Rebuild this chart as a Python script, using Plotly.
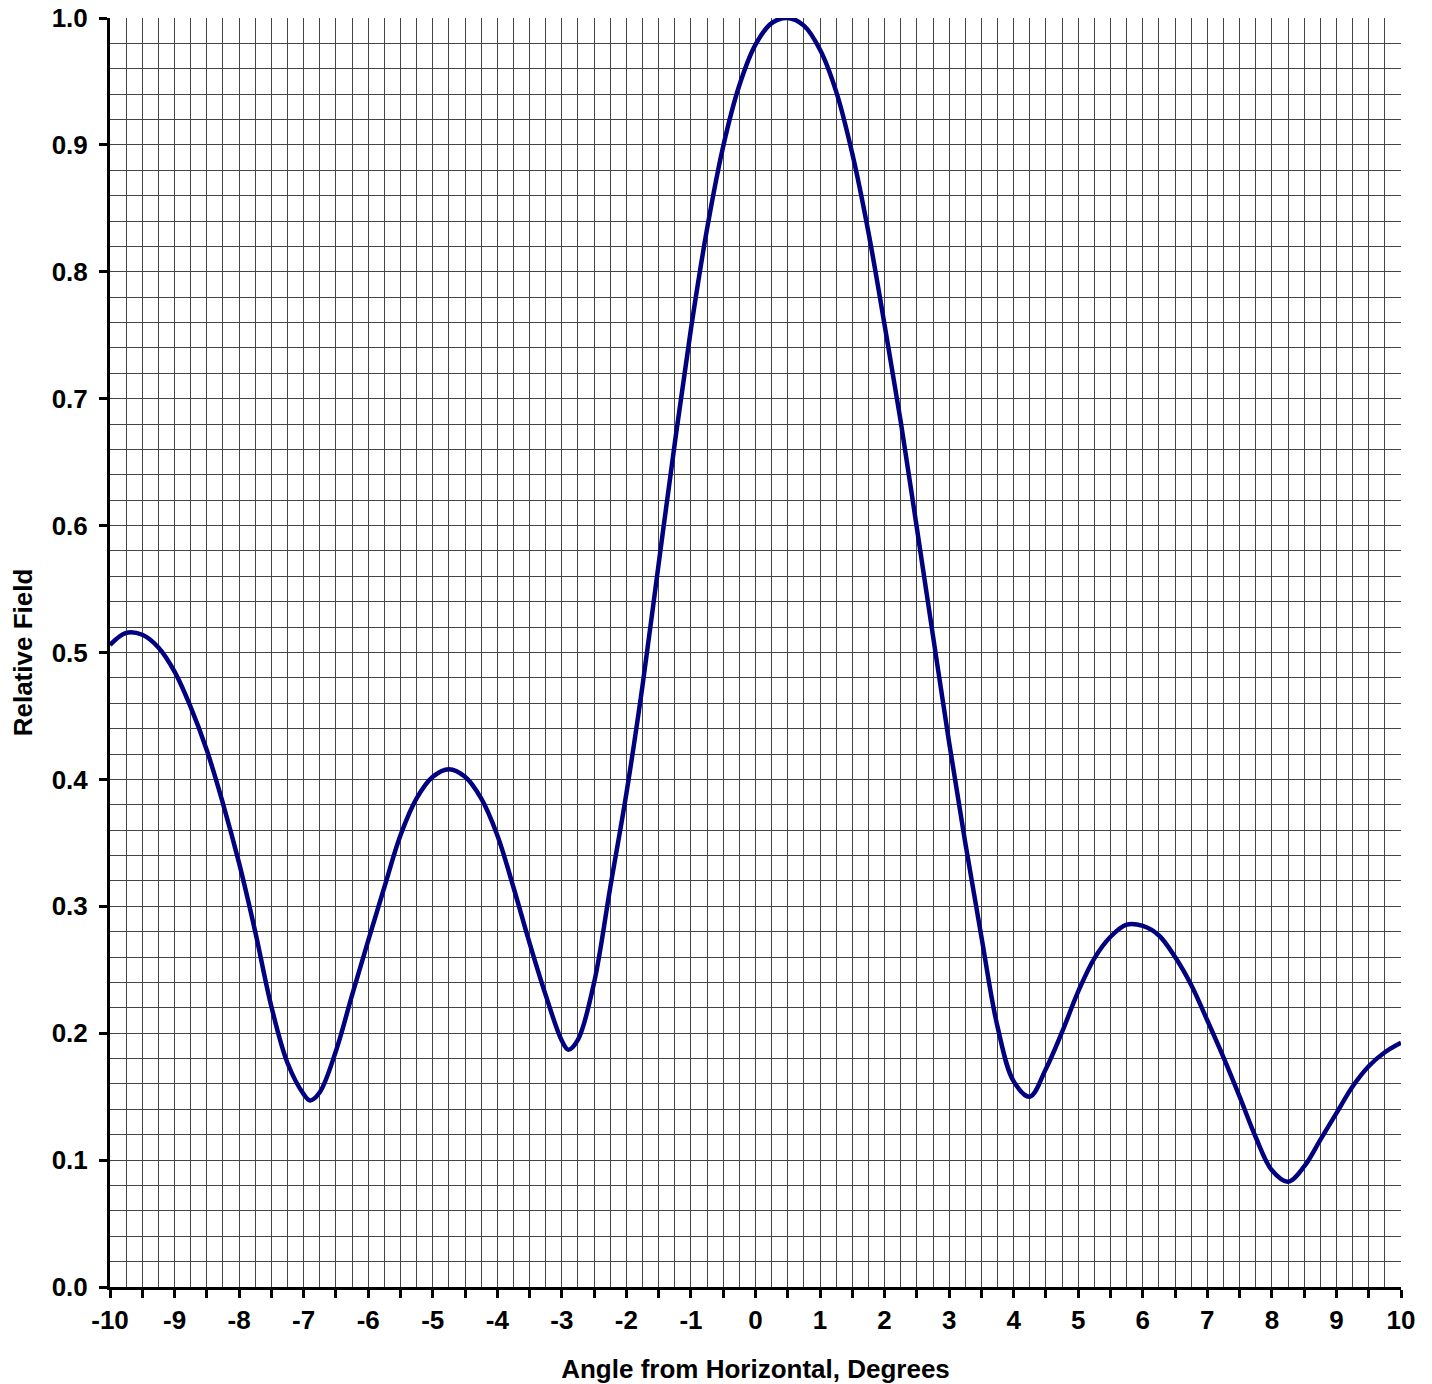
import plotly.graph_objects as go

# ---- data ----
angle_deg = [-10, -9.75, -9.5, -9.25, -9, -8.75, -8.5, -8.25, -8, -7.75, -7.5, -7.25,
             -7, -6.9, -6.75, -6.5, -6.25, -6, -5.75, -5.5, -5.25, -5, -4.75, -4.5,
             -4.25, -4, -3.75, -3.5, -3.25, -3, -2.9, -2.75, -2.5, -2.25, -2, -1.75,
             -1.5, -1.25, -1, -0.75, -0.5, -0.25, 0, 0.25, 0.5, 0.75, 1, 1.25, 1.5,
             1.75, 2, 2.25, 2.5, 2.75, 3, 3.25, 3.5, 3.75, 4, 4.25, 4.5, 4.75, 5,
             5.25, 5.5, 5.75, 6, 6.25, 6.5, 6.75, 7, 7.25, 7.5, 7.75, 8, 8.25, 8.5,
             8.75, 9, 9.25, 9.5, 9.75, 10]
relative_field = [0.506, 0.5155, 0.514, 0.504, 0.485, 0.457, 0.423, 0.381, 0.334, 0.280,
                  0.221, 0.1765, 0.152, 0.147, 0.1535, 0.186, 0.230, 0.273, 0.315, 0.356,
                  0.385, 0.402, 0.408, 0.402, 0.385, 0.356, 0.315, 0.271, 0.230, 0.194,
                  0.187, 0.195, 0.240, 0.315, 0.389, 0.474, 0.570, 0.665, 0.755, 0.834,
                  0.899, 0.947, 0.979, 0.996, 1.0, 0.994, 0.975, 0.942, 0.893, 0.831,
                  0.758, 0.682, 0.598, 0.513, 0.429, 0.350, 0.276, 0.205, 0.162, 0.150,
                  0.172, 0.201, 0.233, 0.259, 0.276, 0.2855, 0.2845, 0.277, 0.260, 0.238,
                  0.210, 0.181, 0.150, 0.118, 0.092, 0.083, 0.095, 0.116, 0.137, 0.158,
                  0.174, 0.185, 0.1925]

x_tick_vals = [v / 2 for v in range(-20, 21)]
x_tick_text = [str(int(v)) if v == int(v) else "" for v in x_tick_vals]
y_tick_vals = [i / 10 for i in range(0, 11)]
y_tick_text = [f"{v:.1f}" for v in y_tick_vals]

FONT = "Liberation Sans, Arial, sans-serif"
GRID = "#454545"

fig = go.Figure()
fig.add_trace(go.Scatter(
    x=angle_deg, y=relative_field, mode="lines",
    line=dict(color="#000080", width=4.5, shape="spline", smoothing=1.0),
    cliponaxis=False, showlegend=False, hoverinfo="skip",
))

fig.update_layout(
    width=1424, height=1376,
    margin=dict(l=102, r=31, t=10, b=97),
    paper_bgcolor="white", plot_bgcolor="white",
    font=dict(family=FONT, size=26, color="black", weight="bold"),
    xaxis=dict(
        range=[-10, 10], tickmode="array", tickvals=x_tick_vals, ticktext=x_tick_text,
        ticks="outside", ticklen=8, tickwidth=3, tickcolor="black",
        showline=True, linecolor="black", linewidth=3,
        showgrid=True, gridcolor=GRID, gridwidth=1,
        minor=dict(dtick=0.25, tick0=0, showgrid=True, gridcolor=GRID, gridwidth=1, ticks=""),
        zeroline=False, ticklabelstandoff=0, ticklabeloverflow="allow",
        tickfont=dict(family=FONT, size=26, color="black", weight="bold"),
        title=dict(text="Angle from Horizontal, Degrees", standoff=28,
                   font=dict(family=FONT, size=26, color="black", weight="bold")),
        automargin=False,
    ),
    yaxis=dict(
        range=[0, 1], tickmode="array", tickvals=y_tick_vals, ticktext=y_tick_text,
        ticks="outside", ticklen=8, tickwidth=3, tickcolor="black",
        showline=True, linecolor="black", linewidth=3,
        showgrid=True, gridcolor=GRID, gridwidth=1,
        minor=dict(dtick=0.02, tick0=0, showgrid=True, gridcolor=GRID, gridwidth=1, ticks=""),
        zeroline=False, ticklabelstandoff=6, ticklabeloverflow="allow",
        tickfont=dict(family=FONT, size=26, color="black", weight="bold"),
        title=dict(text="Relative Field", standoff=21,
                   font=dict(family=FONT, size=26, color="black", weight="bold")),
        automargin=False,
    ),
)

fig.write_html("out.html")
